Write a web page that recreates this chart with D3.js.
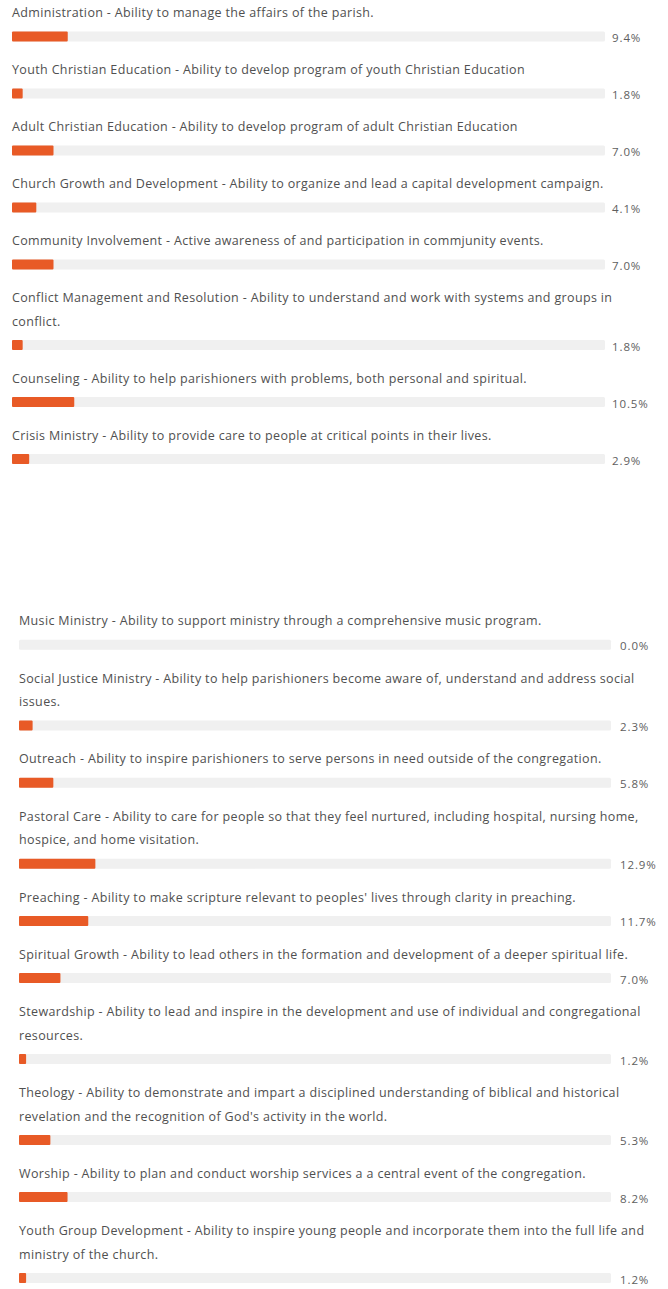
<!DOCTYPE html>
<html>
<head>
<meta charset="utf-8">
<script src="https://cdn.jsdelivr.net/npm/d3@7"></script>
<style>
  html, body { margin: 0; padding: 0; background: #fff; }
  svg { display: block; }
  .label { font-family: "Open Sans", "Liberation Sans", sans-serif; font-size: 12.5px; letter-spacing: 0.35px; fill: #505050; }
  .value { font-family: "Open Sans", "Liberation Sans", sans-serif; font-size: 11.5px; letter-spacing: 0.9px; fill: #5e5e5e; }
</style>
</head>
<body>
<svg id="chart" width="668" height="1289"></svg>
<script>
// First block of survey answers
const groupOneCategories = [
  "Administration - Ability to manage the affairs of the parish.",
  "Youth Christian Education - Ability to develop program of youth Christian Education",
  "Adult Christian Education - Ability to develop program of adult Christian Education",
  "Church Growth and Development - Ability to organize and lead a capital development campaign.",
  "Community Involvement - Active awareness of and participation in commjunity events.",
  "Conflict Management and Resolution - Ability to understand and work with systems and groups in conflict.",
  "Counseling - Ability to help parishioners with problems, both personal and spiritual.",
  "Crisis Ministry - Ability to provide care to people at critical points in their lives."
];
const groupOneValues = [9.4, 1.8, 7.0, 4.1, 7.0, 1.8, 10.5, 2.9];

// Second block of survey answers
const groupTwoCategories = [
  "Music Ministry - Ability to support ministry through a comprehensive music program.",
  "Social Justice Ministry - Ability to help parishioners become aware of, understand and address social issues.",
  "Outreach - Ability to inspire parishioners to serve persons in need outside of the congregation.",
  "Pastoral Care - Ability to care for people so that they feel nurtured, including hospital, nursing home, hospice, and home visitation.",
  "Preaching - Ability to make scripture relevant to peoples' lives through clarity in preaching.",
  "Spiritual Growth - Ability to lead others in the formation and development of a deeper spiritual life.",
  "Stewardship - Ability to lead and inspire in the development and use of individual and congregational resources.",
  "Theology - Ability to demonstrate and impart a disciplined understanding of biblical and historical revelation and the recognition of God's activity in the world.",
  "Worship - Ability to plan and conduct worship services a a central event of the congregation.",
  "Youth Group Development - Ability to inspire young people and incorporate them into the full life and ministry of the church."
];
const groupTwoValues = [0.0, 2.3, 5.8, 12.9, 11.7, 7.0, 1.2, 5.3, 8.2, 1.2];

const svg = d3.select("#chart");
const BAR_COLOR = "#e85a26";
const TRACK_COLOR = "#f0f0f0";

function wrapLines(text, maxWidth, measurer) {
  const words = text.split(" ");
  const lines = [];
  let line = "";
  for (const w of words) {
    const test = line ? line + " " + w : w;
    measurer.text(test);
    if (line && measurer.node().getComputedTextLength() > maxWidth) {
      lines.push(line);
      line = w;
    } else {
      line = test;
    }
  }
  if (line) lines.push(line);
  return lines;
}

function drawBlock(cfg) {
  const g = svg.append("g");
  const x = d3.scaleLinear().domain([0, 100]).range([cfg.left, cfg.right]);
  const measurer = g.append("text").attr("class", "label").attr("visibility", "hidden");

  let y = cfg.top;
  cfg.categories.forEach((cat, i) => {
    const lines = wrapLines(cat, cfg.wrapWidth, measurer);
    const row = g.append("g");
    lines.forEach((ln, j) => {
      row.append("text")
        .attr("class", "label")
        .attr("x", cfg.left)
        .attr("y", y + j * cfg.lineStep)
        .attr("dy", "0.35em")
        .text(ln);
    });
    const barY = y + lines.length * cfg.lineStep;
    row.append("rect")
      .attr("x", x(0))
      .attr("y", barY - cfg.barH / 2)
      .attr("width", x(100) - x(0))
      .attr("height", cfg.barH)
      .attr("rx", 1.5)
      .attr("fill", TRACK_COLOR);
    row.append("rect")
      .attr("x", x(0))
      .attr("y", barY - cfg.barH / 2)
      .attr("width", x(cfg.values[i]) - x(0))
      .attr("height", cfg.barH)
      .attr("rx", 1)
      .attr("fill", BAR_COLOR);
    row.append("text")
      .attr("class", "value")
      .attr("x", cfg.valueX)
      .attr("y", barY + 1.5)
      .attr("dy", "0.35em")
      .text(d3.format(".1f")(cfg.values[i]) + "%");
    y = barY + cfg.rowGap;
  });
  measurer.remove();
}

drawBlock({
  categories: groupOneCategories, values: groupOneValues,
  left: 12, right: 605, top: 13, lineStep: 23.5, rowGap: 33.5,
  barH: 10, valueX: 612, wrapWidth: 625
});

drawBlock({
  categories: groupTwoCategories, values: groupTwoValues,
  left: 19, right: 611, top: 621, lineStep: 23.7, rowGap: 33.5,
  barH: 10, valueX: 620, wrapWidth: 636
});
</script>
</body>
</html>
